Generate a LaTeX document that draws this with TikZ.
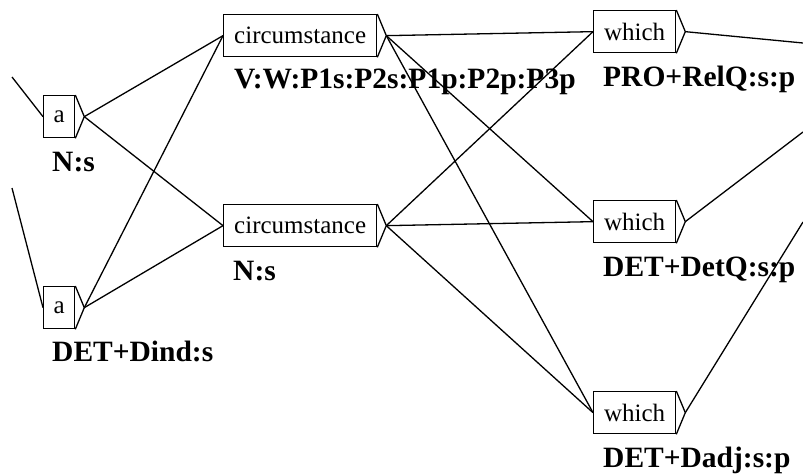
\documentclass[tikz,border=0pt]{standalone}
\usepackage{fontspec}
\setmainfont{Liberation Serif}
\begin{document}
\begin{tikzpicture}[x=1pt,y=-1pt,
  box/.style={draw, line width=1.3pt, inner sep=0pt, minimum height=42pt, anchor=north west, font=\fontsize{25}{26}\selectfont},
  lbl/.style={anchor=base west, inner sep=0pt, font=\fontsize{29.5}{31}\selectfont\bfseries},
  edge/.style={line width=1.3pt}]
\useasboundingbox (0,0) rectangle (803,475);
% boxes
\node[box, minimum width=31pt] (a1) at (43,95) {a};
\node[box, minimum width=31pt] (a2) at (43,286) {a};
\node[box, minimum width=153pt] (c1) at (223,14) {circumstance};
\node[box, minimum width=153pt] (c2) at (223,204) {circumstance};
\node[box, minimum width=82pt] (w1) at (593,10) {which};
\node[box, minimum width=82pt] (w2) at (593,200) {which};
\node[box, minimum width=82pt] (w3) at (593,391) {which};
% labels
\node[lbl] (la1) at (52,171) {N:s};
\node[lbl] (la2) at (52,361) {DET+Dind:s};
\node[lbl] (lc1) at (234,88) {V:W:P1s:P2s:P1p:P2p:P3p};
\node[lbl] (lc2) at (233,280) {N:s};
\node[lbl] (lw1) at (603,86) {PRO+RelQ:s:p};
\node[lbl] (lw2) at (603,276) {DET+DetQ:s:p};
\node[lbl] (lw3) at (603,467) {DET+Dadj:s:p};
% output triangles
\foreach \n in {a1,a2,c1,c2,w1,w2,w3}{
  \coordinate (t\n) at ([xshift=9pt]\n.east);
  \draw[edge] (\n.north east) -- (t\n) -- (\n.south east);
}
% free ends
\coordinate (in1) at (12,77);
\coordinate (in2) at (12,188);
\coordinate (o1) at (803,43);
\coordinate (o2) at (803,132);
\coordinate (o3) at (803,222);
% connectors
\draw[edge] (in1) -- (a1.west);
\draw[edge] (in2) -- (a2.west);
\foreach \s in {a1,a2}{
  \draw[edge] (t\s) -- (c1.west);
  \draw[edge] (t\s) -- (c2.west);
}
\foreach \s in {c1,c2}{
  \draw[edge] (t\s) -- (w1.west);
  \draw[edge] (t\s) -- (w2.west);
  \draw[edge] (t\s) -- (w3.west);
}
\draw[edge] (tw1) -- (o1);
\draw[edge] (tw2) -- (o2);
\draw[edge] (tw3) -- (o3);
\end{tikzpicture}
\end{document}
